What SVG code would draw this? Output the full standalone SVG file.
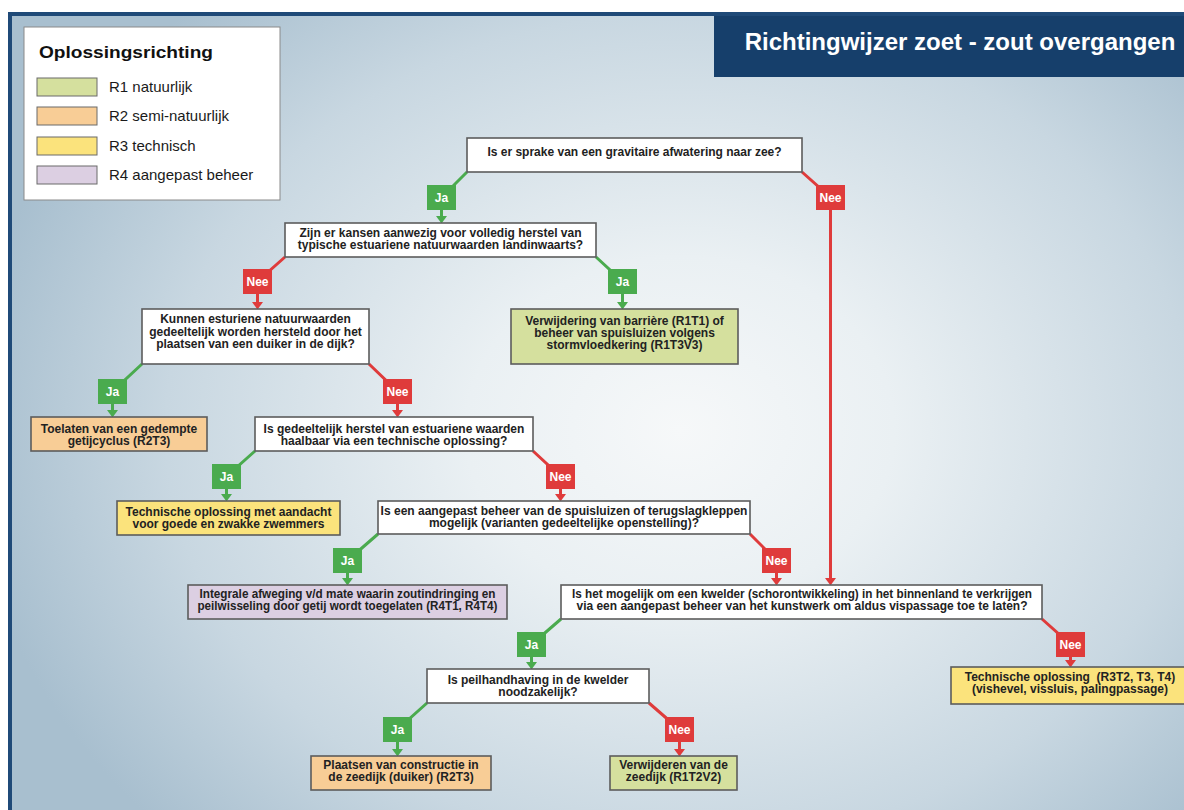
<svg xmlns="http://www.w3.org/2000/svg" width="1184" height="810" viewBox="0 0 1184 810">
<defs>
<radialGradient id="bg" gradientUnits="userSpaceOnUse" cx="680" cy="430" r="680" gradientTransform="translate(680 430) scale(1.05 0.85) translate(-680 -430)">
<stop offset="0" stop-color="#f6f8f9"/>
<stop offset="0.3" stop-color="#eaf0f3"/>
<stop offset="0.72" stop-color="#c8d7e1"/>
<stop offset="1" stop-color="#a8bfcf"/>
</radialGradient>
<marker id="ag" markerUnits="userSpaceOnUse" markerWidth="8" markerHeight="11" refX="0" refY="5.5" orient="auto" viewBox="0 0 8 11">
<path d="M0,0 L7.5,5.5 L0,11 z" fill="#4aab4e"/>
</marker>
<marker id="ar" markerUnits="userSpaceOnUse" markerWidth="8" markerHeight="11" refX="0" refY="5.5" orient="auto" viewBox="0 0 8 11">
<path d="M0,0 L7.5,5.5 L0,11 z" fill="#df3b3b"/>
</marker>
</defs>
<style>
.box{stroke:#5c5c5c;stroke-width:1.6}
.q{fill:#ffffff}
.r1{fill:#d5e09e}
.r2{fill:#f8cd96}
.r3{fill:#fbe37c}
.r4{fill:#dccfe2}
.t{font-family:"Liberation Sans",Arial,Helvetica,sans-serif;font-weight:bold;font-size:12px;fill:#222;text-anchor:middle}
.ja{fill:#4aab4e}
.nee{fill:#df3b3b}
.lt{font-family:"Liberation Sans",Arial,Helvetica,sans-serif;font-weight:bold;font-size:12px;fill:#ffffff;text-anchor:middle}
.cg{stroke:#4aab4e;stroke-width:3;fill:none}
.cr{stroke:#df3b3b;stroke-width:3;fill:none}
.leg{font-family:"Liberation Sans",Arial,Helvetica,sans-serif;font-size:15px;fill:#1a1a1a}
.sw{stroke:#6a6a6a;stroke-width:1}
</style>

<rect x="0" y="0" width="1184" height="810" fill="#ffffff"/>
<rect x="10" y="14" width="1190" height="810" fill="url(#bg)" stroke="#1f4a78" stroke-width="4"/>

<g id="title">
<rect x="714" y="16" width="480" height="61" fill="#163f6b"/>
<text x="960" y="50" font-family="Liberation Sans, Arial, sans-serif" font-weight="bold" font-size="24" fill="#ffffff" text-anchor="middle">Richtingwijzer zoet - zout overgangen</text>
</g>

<g id="legend">
<rect x="24" y="27" width="256" height="173" fill="#ffffff" stroke="#8a8a8a" stroke-width="1"/>
<text x="39" y="58" font-family="Liberation Sans, Arial, sans-serif" font-weight="bold" font-size="17" fill="#111" textLength="174" lengthAdjust="spacingAndGlyphs">Oplossingsrichting</text>
<rect class="sw r1" x="37" y="78" width="60" height="18"/>
<text class="leg" x="109" y="92">R1 natuurlijk</text>
<rect class="sw r2" x="37" y="107" width="60" height="18"/>
<text class="leg" x="109" y="121">R2 semi-natuurlijk</text>
<rect class="sw r3" x="37" y="137" width="60" height="18"/>
<text class="leg" x="109" y="151">R3 technisch</text>
<rect class="sw r4" x="37" y="166" width="60" height="18"/>
<text class="leg" x="109" y="180">R4 aangepast beheer</text>
</g>

<g id="connectors">
<path class="cg" d="M467,172 L441.5,197.5 L441.5,216" marker-end="url(#ag)"/>
<path class="cr" d="M802,172 L830.5,197.5 L830.5,578" marker-end="url(#ar)"/>
<path class="cr" d="M285,257 L257.5,281.5 L257.5,302" marker-end="url(#ar)"/>
<path class="cg" d="M596,257 L622.5,281.5 L622.5,302" marker-end="url(#ag)"/>
<path class="cg" d="M142,364 L112.5,391.5 L112.5,410" marker-end="url(#ag)"/>
<path class="cr" d="M369,364 L397.5,391.5 L397.5,410" marker-end="url(#ar)"/>
<path class="cg" d="M255,451 L226.5,476.5 L226.5,494" marker-end="url(#ag)"/>
<path class="cr" d="M533,451 L560.5,476.5 L560.5,494" marker-end="url(#ar)"/>
<path class="cg" d="M378,534 L347.5,560.5 L347.5,578" marker-end="url(#ag)"/>
<path class="cr" d="M750,534 L776.5,560.5 L776.5,578" marker-end="url(#ar)"/>
<path class="cg" d="M561,619 L531.5,644.5 L531.5,662" marker-end="url(#ag)"/>
<path class="cr" d="M1042,619 L1070.5,644.5 L1070.5,660" marker-end="url(#ar)"/>
<path class="cg" d="M427,703 L397.5,729.5 L397.5,749" marker-end="url(#ag)"/>
<path class="cr" d="M649,703 L679.5,729.5 L679.5,749" marker-end="url(#ar)"/>
</g>

<g id="edge-labels">
<g id="l-ja1"><rect class="ja" x="427" y="185" width="29" height="25"/><text class="lt" x="441.5" y="202">Ja</text></g>
<g id="l-nee1"><rect class="nee" x="816" y="185" width="29" height="25"/><text class="lt" x="830.5" y="202">Nee</text></g>
<g id="l-nee2"><rect class="nee" x="243" y="269" width="29" height="25"/><text class="lt" x="257.5" y="286">Nee</text></g>
<g id="l-ja2"><rect class="ja" x="608" y="269" width="29" height="25"/><text class="lt" x="622.5" y="286">Ja</text></g>
<g id="l-ja3"><rect class="ja" x="98" y="379" width="29" height="25"/><text class="lt" x="112.5" y="396">Ja</text></g>
<g id="l-nee3"><rect class="nee" x="383" y="379" width="29" height="25"/><text class="lt" x="397.5" y="396">Nee</text></g>
<g id="l-ja4"><rect class="ja" x="212" y="464" width="29" height="25"/><text class="lt" x="226.5" y="481">Ja</text></g>
<g id="l-nee4"><rect class="nee" x="546" y="464" width="29" height="25"/><text class="lt" x="560.5" y="481">Nee</text></g>
<g id="l-ja5"><rect class="ja" x="333" y="548" width="29" height="25"/><text class="lt" x="347.5" y="565">Ja</text></g>
<g id="l-nee5"><rect class="nee" x="762" y="548" width="29" height="25"/><text class="lt" x="776.5" y="565">Nee</text></g>
<g id="l-ja6"><rect class="ja" x="517" y="632" width="29" height="25"/><text class="lt" x="531.5" y="649">Ja</text></g>
<g id="l-nee6"><rect class="nee" x="1056" y="632" width="29" height="25"/><text class="lt" x="1070.5" y="649">Nee</text></g>
<g id="l-ja7"><rect class="ja" x="383" y="717" width="29" height="25"/><text class="lt" x="397.5" y="734">Ja</text></g>
<g id="l-nee7"><rect class="nee" x="665" y="717" width="29" height="25"/><text class="lt" x="679.5" y="734">Nee</text></g>
</g>

<g id="q1"><rect class="box q" x="467" y="138" width="335" height="34"/>
<text class="t" x="634.5" y="156">Is er sprake van een gravitaire afwatering naar zee?</text></g>

<g id="q2"><rect class="box q" x="285" y="223" width="311" height="34"/>
<text class="t" x="440.5" y="237">Zijn er kansen aanwezig voor volledig herstel van</text>
<text class="t" x="440.5" y="249">typische estuariene natuurwaarden landinwaarts?</text></g>

<g id="r1t1"><rect class="box r1" x="511" y="309" width="227" height="55"/>
<text class="t" x="624.5" y="325">Verwijdering van barrière (R1T1) of</text>
<text class="t" x="624.5" y="337">beheer van spuisluizen volgens</text>
<text class="t" x="624.5" y="349">stormvloedkering (R1T3V3)</text></g>

<g id="q3"><rect class="box q" x="142" y="309" width="227" height="55"/>
<text class="t" x="255.5" y="323">Kunnen esturiene natuurwaarden</text>
<text class="t" x="255.5" y="336">gedeeltelijk worden hersteld door het</text>
<text class="t" x="255.5" y="348">plaatsen van een duiker in de dijk?</text></g>

<g id="r2t3a"><rect class="box r2" x="31" y="417" width="176" height="34"/>
<text class="t" x="119" y="433">Toelaten van een gedempte</text>
<text class="t" x="119" y="445">getijcyclus (R2T3)</text></g>

<g id="q4"><rect class="box q" x="255" y="417" width="278" height="34"/>
<text class="t" x="394" y="433">Is gedeeltelijk herstel van estuariene waarden</text>
<text class="t" x="394" y="445">haalbaar via een technische oplossing?</text></g>

<g id="r3a"><rect class="box r3" x="117" y="501" width="223" height="34"/>
<text class="t" x="228.5" y="516">Technische oplossing met aandacht</text>
<text class="t" x="228.5" y="528">voor goede en zwakke zwemmers</text></g>

<g id="q5"><rect class="box q" x="378" y="501" width="372" height="33"/>
<text class="t" x="564" y="515">Is een aangepast beheer van de spuisluizen of terugslagkleppen</text>
<text class="t" x="564" y="527">mogelijk (varianten gedeeltelijke openstelling)?</text></g>

<g id="r4"><rect class="box r4" x="188" y="585" width="319" height="34"/>
<text class="t" x="347.5" y="598" textLength="296" lengthAdjust="spacingAndGlyphs">Integrale afweging v/d mate waarin zoutindringing en</text>
<text class="t" x="347.5" y="610" textLength="300" lengthAdjust="spacingAndGlyphs">peilwisseling door getij wordt toegelaten (R4T1, R4T4)</text></g>

<g id="q6"><rect class="box q" x="561" y="585" width="481" height="34"/>
<text class="t" x="802" y="598" textLength="460" lengthAdjust="spacingAndGlyphs">Is het mogelijk om een kwelder (schorontwikkeling) in het binnenland te verkrijgen</text>
<text class="t" x="802" y="610" textLength="451" lengthAdjust="spacingAndGlyphs">via een aangepast beheer van het kunstwerk om aldus vispassage toe te laten?</text></g>

<g id="r3b"><rect class="box r3" x="951" y="667" width="240" height="37"/>
<text class="t" x="1070" y="681" xml:space="preserve">Technische oplossing  (R3T2, T3, T4)</text>
<text class="t" x="1070" y="693">(vishevel, vissluis, palingpassage)</text></g>

<g id="q7"><rect class="box q" x="427" y="669" width="222" height="34"/>
<text class="t" x="538" y="684">Is peilhandhaving in de kwelder</text>
<text class="t" x="538" y="696">noodzakelijk?</text></g>

<g id="r2t3b"><rect class="box r2" x="311" y="756" width="180" height="34"/>
<text class="t" x="401" y="769">Plaatsen van constructie in</text>
<text class="t" x="401" y="781">de zeedijk (duiker) (R2T3)</text></g>

<g id="r1t2"><rect class="box r1" x="610" y="756" width="127" height="34"/>
<text class="t" x="673.5" y="769">Verwijderen van de</text>
<text class="t" x="673.5" y="781">zeedijk (R1T2V2)</text></g>
</svg>
